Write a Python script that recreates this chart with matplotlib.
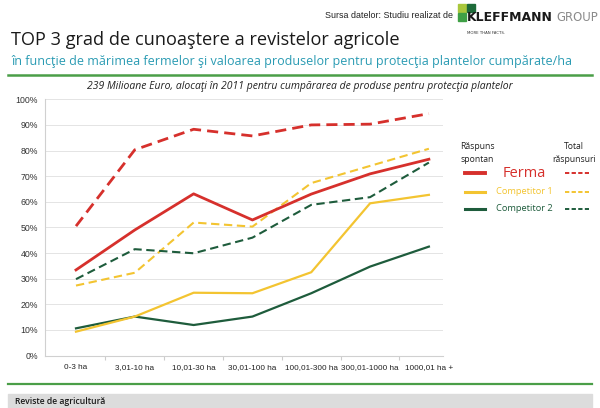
import matplotlib
matplotlib.use("Agg")
import matplotlib.pyplot as plt
from matplotlib.patches import Rectangle
from matplotlib.lines import Line2D

categories = ["0-3 ha", "3,01-10 ha", "10,01-30 ha", "30,01-100 ha",
              "100,01-300 ha", "300,01-1000 ha", "1000,01 ha +"]
ferma_spontan = [33.4, 49.0, 63.1, 52.9, 63.0, 70.9, 76.6]
ferma_total = [50.5, 80.3, 88.3, 85.7, 90.0, 90.3, 94.4]
comp1_spontan = [9.3, 15.2, 24.5, 24.3, 32.5, 59.4, 62.7]
comp1_total = [27.3, 32.3, 51.9, 50.3, 67.3, 74.0, 80.7]
comp2_spontan = [10.6, 15.2, 11.9, 15.2, 24.3, 34.7, 42.5]
comp2_total = [29.8, 41.5, 39.9, 46.0, 58.8, 61.8, 75.3]
yticks = [0, 10, 20, 30, 40, 50, 60, 70, 80, 90, 100]

RED = "#D6302C"
YEL = "#F3C431"
GRN = "#1E5C3C"
TEAL = "#2A9BB3"
LINEGRN = "#4A9E48"
NARROW = ["Liberation Sans", "DejaVu Sans"]

fig = plt.figure(figsize=(6.0, 4.08), dpi=100)
W, H = 600.0, 408.0

def fx(x):
    return x / W

def fy(y):
    return 1 - y / H

ax = fig.add_axes([fx(45), fy(355.5), (443 - 45) / W, (355.5 - 99.3) / H])
xs = list(range(len(categories)))

ax.plot(xs, ferma_total, color=RED, lw=2.0, dashes=(4, 2.2))
ax.plot(xs, comp1_total, color=YEL, lw=1.5, dashes=(4, 2.2))
ax.plot(xs, comp2_total, color=GRN, lw=1.5, dashes=(4, 2.2))
ax.plot(xs, comp2_spontan, color=GRN, lw=1.6)
ax.plot(xs, comp1_spontan, color=YEL, lw=1.6)
ax.plot(xs, ferma_spontan, color=RED, lw=2.0)

ax.set_xlim(-0.527, 6.24)
ax.set_ylim(0, 100)
ax.set_yticks(yticks)
ax.set_yticklabels([f"{v}%" for v in yticks], family=NARROW, fontsize=6.3, color="#333333")
ax.set_xticks(xs)
ax.set_xticklabels(categories, family=NARROW, fontsize=5.9, color="#222222")
ax.set_xticks([i + 0.5 for i in range(6)], minor=True)
ax.tick_params(axis="x", which="major", length=0, pad=6)
ax.tick_params(axis="x", which="minor", length=3, color="#cccccc", width=0.8)
ax.tick_params(axis="y", length=0, pad=5)
ax.grid(axis="y", color="#e4e4e4", lw=0.7)
ax.set_axisbelow(True)
for s in ["top", "right"]:
    ax.spines[s].set_visible(False)
ax.spines["left"].set_color("#d0d0d0")
ax.spines["bottom"].set_color("#d0d0d0")

# Titles
fig.text(fx(11), fy(40), "TOP 3 grad de cunoaştere a revistelor agricole",
         family="Open Sans", fontsize=13.1, color="#1a1a1a", va="center", ha="left")
fig.text(fx(11), fy(61), "în funcţie de mărimea fermelor şi valoarea produselor pentru protecţia plantelor cumpărate/ha",
         family="Open Sans", fontsize=9.0, color=TEAL, va="center", ha="left")
fig.add_artist(Line2D([fx(8), fx(592)], [fy(75), fy(75)], color=LINEGRN, lw=1.8))
fig.text(fx(300), fy(86), "239 Milioane Euro, alocaţi în 2011 pentru cumpărarea de produse pentru protecţia plantelor",
         family="Open Sans", style="italic", fontsize=7.5, color="#222222", va="center", ha="center")

# Source + logo
fig.text(fx(453), fy(15), "Sursa datelor: Studiu realizat de", family=NARROW,
         fontsize=6.4, color="#222222", va="center", ha="right")
fig.add_artist(Rectangle((fx(458), fy(12)), 8 / W, 8 / H, color="#A9C73C", transform=fig.transFigure))
fig.add_artist(Rectangle((fx(467), fy(12)), 8 / W, 8 / H, color="#1E6B3A", transform=fig.transFigure))
fig.add_artist(Rectangle((fx(458), fy(21)), 8 / W, 8 / H, color="#3FA046", transform=fig.transFigure))
fig.text(fx(467), fy(17.5), "KLEFFMANN", family="DejaVu Sans", fontweight="bold",
         fontsize=9.0, color="#1a1a1a", va="center", ha="left")
fig.text(fx(556), fy(17.5), "GROUP", family="DejaVu Sans", fontsize=8.4,
         color="#8a8a8a", va="center", ha="left")
fig.text(fx(467), fy(33), "MORE THAN FACTS.", family="DejaVu Sans", fontsize=2.8,
         color="#333333", va="center", ha="left")

# Legend
fig.text(fx(460), fy(153), "Răspuns\nspontan", family="Open Sans", fontsize=6.2,
         color="#222222", va="center", ha="left", linespacing=1.5)
fig.text(fx(574), fy(153), "Total\nrăspunsuri", family="Open Sans", fontsize=6.2,
         color="#222222", va="center", ha="center", linespacing=1.5)
leg = [("Ferma", RED, 173, 10.5, 2.2), ("Competitor 1", YEL, 192, 6.7, 1.6),
       ("Competitor 2", GRN, 209, 6.7, 1.6)]
for name, col, y, fs, lw in leg:
    fig.add_artist(Line2D([fx(465), fx(485)], [fy(y), fy(y)], color=col, lw=lw + 0.6))
    fig.add_artist(Line2D([fx(565), fx(589)], [fy(y), fy(y)], color=col, lw=1.4, dashes=(2.2, 1.2)))
    fig.text(fx(524), fy(y), name, family="Open Sans", fontsize=fs, color=col,
             va="center", ha="center")

# Bottom bar
fig.add_artist(Line2D([fx(8), fx(592)], [fy(384), fy(384)], color=LINEGRN, lw=1.6))
fig.add_artist(Rectangle((fx(8), 0), 584 / W, (408 - 394) / H, color="#dcdcdc", transform=fig.transFigure))
fig.text(fx(15), fy(401.5), "Reviste de agricultură", family="Open Sans", fontsize=6.2,
         fontweight="semibold", color="#1a1a1a", va="center", ha="left")

fig.savefig("out.png", dpi=100)
